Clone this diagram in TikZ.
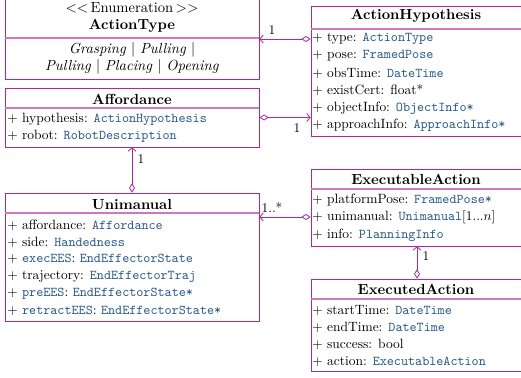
\documentclass[tikz,border=0pt]{standalone}
\usetikzlibrary{arrows.meta,fit}
\definecolor{umlline}{RGB}{176,40,150}
\definecolor{umlsep}{RGB}{206,120,190}
\definecolor{umltype}{RGB}{38,88,140}
\newcommand\umlty[1]{\textcolor{umltype}{\texttt{#1}}}
\begin{document}
\begin{tikzpicture}[x=0.75pt,y=-0.75pt,
  umlbox/.style={draw=umlline, line width=0.6pt, inner sep=0pt},
  umlsep/.style={draw=umlsep, line width=0.8pt},
  row/.style={anchor=west, inner sep=0pt, font=\fontsize{10.1}{12}\selectfont},
  big/.style={inner sep=0pt, font=\fontsize{10.95}{13}\selectfont},
  ttl/.style={inner sep=0pt, font=\fontsize{10.95}{13}\selectfont\bfseries},
  mult/.style={inner sep=0pt},
  assoc/.style={draw=umlline, line width=0.6pt,
    {Diamond[open,fill=white,length=7pt,width=4.5pt]}-{Straight Barb[length=2.5pt,width=6pt]}}]
\useasboundingbox (0,0) rectangle (521,378);

% class frames
\node[umlbox, fit={(5,-1) (259,79)}] (at) {};
\node[umlbox, fit={(5,88) (259,147)}] (aff) {};
\node[umlbox, fit={(5,193) (259,321)}] (uni) {};
\node[umlbox, fit={(311,6) (523,136)}] (ah) {};
\node[umlbox, fit={(311,169) (523,246)}] (ea) {};
\node[umlbox, fit={(311,279) (523,371)}] (exd) {};

% header separators
\draw[umlsep] (at.west |- 0,38) -- (at.east |- 0,38);
\draw[umlsep] (aff.west |- 0,108) -- (aff.east |- 0,108);
\draw[umlsep] (uni.west |- 0,213) -- (uni.east |- 0,213);
\draw[umlsep] (ah.west |- 0,29) -- (ah.east |- 0,29);
\draw[umlsep] (ea.west |- 0,189) -- (ea.east |- 0,189);
\draw[umlsep] (exd.west |- 0,299) -- (exd.east |- 0,299);

% ActionType
\node[big] (atst) at (132,8) {$<<$\,Enumeration\,$>>$};
\node[ttl] (att) at (132,26) {ActionType};
\node[big] (at1) at (132,50) {\textit{Grasping} $|$ \textit{Pulling} $|$};
\node[big] (at2) at (132,67) {\textit{Pulling} $|$ \textit{Placing} $|$ \textit{Opening}};

% Affordance
\node[ttl] (afft) at (132,99) {Affordance};
\node[row] (aff1) at (7,119) {$+$ hypothesis: \umlty{ActionHypothesis}};
\node[row] (aff2) at (7,136) {$+$ robot: \umlty{RobotDescription}};

% Unimanual
\node[ttl] (unit) at (132,205) {Unimanual};
\node[row] (uni1) at (7,225) {$+$ affordance: \umlty{Affordance}};
\node[row] (uni2) at (7,242) {$+$ side: \umlty{Handedness}};
\node[row] (uni3) at (7,259) {$+$ \umlty{execEES}: \umlty{EndEffectorState}};
\node[row] (uni4) at (7,276.5) {$+$ trajectory: \umlty{EndEffectorTraj}};
\node[row] (uni5) at (7,294) {$+$ \umlty{preEES}: \umlty{EndEffectorState*}};
\node[row] (uni6) at (7,311) {$+$ \umlty{retractEES}: \umlty{EndEffectorState*}};

% ActionHypothesis
\node[ttl] (aht) at (416,16) {ActionHypothesis};
\node[row] (ah1) at (312,39) {$+$ type: \umlty{ActionType}};
\node[row] (ah2) at (312,56) {$+$ pose: \umlty{FramedPose}};
\node[row] (ah3) at (312,73) {$+$ obsTime: \umlty{DateTime}};
\node[row] (ah4) at (312,90) {$+$ existCert: float*};
\node[row] (ah5) at (312,108) {$+$ objectInfo: \umlty{ObjectInfo*}};
\node[row] (ah6) at (312,125) {$+$ approachInfo: \umlty{ApproachInfo*}};

% ExecutableAction
\node[ttl] (eat) at (416,179) {ExecutableAction};
\node[row] (ea1) at (312,200) {$+$ platformPose: \umlty{FramedPose*}};
\node[row] (ea2) at (312,217) {$+$ unimanual: \umlty{Unimanual}$[1...n]$};
\node[row] (ea3) at (312,235) {$+$ info: \umlty{PlanningInfo}};

% ExecutedAction
\node[ttl] (exdt) at (416,289) {ExecutedAction};
\node[row] (exd1) at (312,310) {$+$ startTime: \umlty{DateTime}};
\node[row] (exd2) at (312,327) {$+$ endTime: \umlty{DateTime}};
\node[row] (exd3) at (312,344) {$+$ success: bool};
\node[row] (exd4) at (312,362) {$+$ action: \umlty{ExecutableAction}};

% aggregations
\draw[assoc] (ah.west |- at.east) -- (at.east);
\draw[assoc] (aff.east) -- (ah.west |- aff.east);
\draw[assoc] (uni.north -| aff.south) -- (aff.south);
\draw[assoc] (ea.west |- ea2.west) -- (uni.east |- ea2.west);
\draw[assoc] (exd.north -| ea.south) -- (ea.south);

% multiplicities
\node[mult] (m1) at (272,30) {1};
\node[mult] (m2) at (297,128) {1};
\node[mult] (m3) at (141,159) {1};
\node[mult] (m4) at (272,207) {1..*};
\node[mult] (m5) at (426,256) {1};
\end{tikzpicture}
\end{document}
